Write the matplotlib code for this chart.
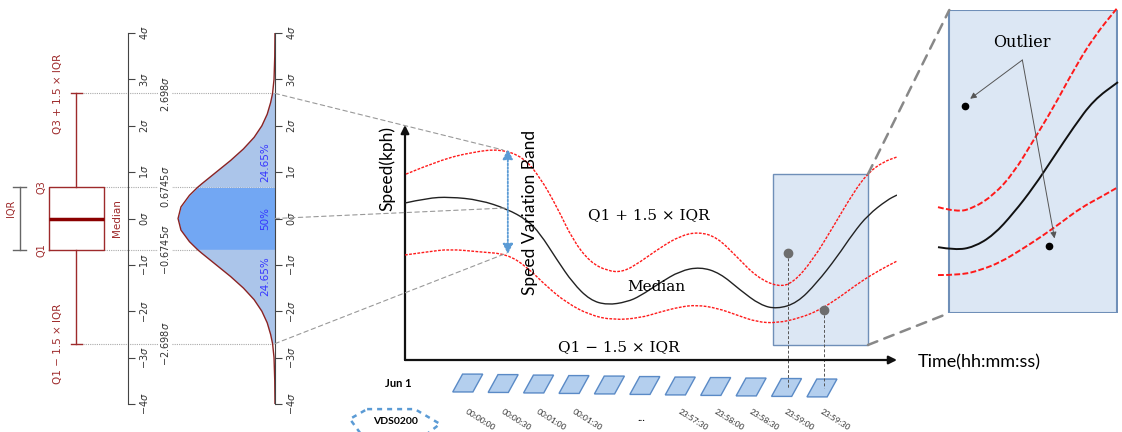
import numpy as np
import matplotlib
matplotlib.use("Agg")
import matplotlib.pyplot as plt
from matplotlib.patches import Rectangle, Polygon, PathPatch, ConnectionPatch
from matplotlib.path import Path

W, H = 1122, 432

# ---- left panel: box plot vs. normal density (sigma units) ----
sigma_ticks = np.arange(-4, 5)
box_stats = dict(whislo=-2.698, q1=-0.6745, med=0.0, q3=0.6745, whishi=2.698)
pdf_z = [0, 0.25, 0.5, 0.6745, 0.75, 1.0, 1.25, 1.5, 1.75, 2.0, 2.25, 2.5, 2.698, 3.0, 3.5, 4.0]
pdf_v = [0.399, 0.387, 0.352, 0.318, 0.301, 0.242, 0.183, 0.130, 0.086, 0.054, 0.032,
         0.018, 0.010, 0.004, 0.001, 0.0]
share_labels = ["24.65%", "50%", "24.65%"]
share_z = [1.22, 0.0, -1.25]
ref_z = [2.698, 0.6745, -0.6745, -2.698]
ref_labels = [r"$2.698\sigma$", r"$0.6745\sigma$", r"$-0.6745\sigma$", r"$-2.698\sigma$"]

# ---- main chart: speed over time (time 0-100, speed 0-100) ----
upper_t = [0.2, 7.1, 13.8, 19.3, 24.0, 27.4, 30.9, 34.1, 37.6, 41.1, 44.3, 47.8, 51.8, 55.9,
           59.6, 63.4, 67.5, 71.5, 75.8, 78.9, 82.9, 87.0, 91.1, 94.1, 97.2, 100]
upper_v = [79.1, 85.1, 88.5, 89.8, 86.4, 77.9, 65.1, 51.1, 41.7, 37.9, 37.4, 41.7, 47.7, 52.8,
           54.5, 52.3, 43.8, 35.3, 31.1, 32.8, 42.6, 56.6, 71.1, 79.6, 84.3, 86.4]
median_t = [0, 4.5, 9.1, 15.2, 20.7, 24.8, 27.4, 30.9, 34.1, 37.6, 41.1, 45.1, 47.8, 51.8,
            55.9, 60.0, 64.0, 68.1, 72.2, 75.6, 79.7, 83.7, 87.8, 91.1, 94.1, 98.0, 100]
median_v = [66.8, 68.9, 69.4, 68.1, 64.3, 59.6, 54.0, 42.6, 32.8, 25.5, 23.4, 24.7, 27.2, 32.8,
            37.9, 39.6, 37.0, 29.8, 23.4, 21.7, 24.3, 32.8, 43.8, 54.0, 61.7, 68.1, 70.2]
lower_t = [0, 4.5, 9.1, 15.2, 20.7, 24.8, 28.9, 32.9, 37.6, 42.3, 47.8, 51.8, 55.9, 59.3,
           63.4, 67.5, 71.5, 75.6, 80.3, 84.3, 88.4, 92.5, 96.5, 100]
lower_v = [44.7, 46.0, 47.2, 46.0, 45.1, 39.6, 31.1, 24.3, 19.1, 17.0, 17.9, 20.4, 22.6, 23.4,
           22.1, 19.1, 16.2, 15.7, 17.9, 21.3, 26.8, 33.2, 38.3, 42.1]
dots_t = [77.8, 85.2]
dots_v = [45.5, 21.3]
box_t = (74.8, 94.1)
box_v = (6.4, 79.1)
band_t = 20.9
band_v = (45.1, 89.8)

# ---- zoomed inset (same units) ----
zu_t = [73.5, 75.7, 77.6, 79.9, 82.2, 84.5, 86.8, 89.1, 91.4, 94.2]
zu_v = [31.8, 30.6, 31.6, 34.7, 40.0, 47.9, 55.8, 64.7, 72.6, 79.8]
zm_t = [73.5, 75.5, 77.6, 79.9, 82.2, 84.5, 86.8, 89.1, 91.4, 94.2]
zm_v = [22.2, 21.5, 22.2, 25.1, 30.4, 36.6, 43.8, 51.0, 57.5, 61.8]
zl_t = [73.5, 76.1, 78.4, 80.7, 83.0, 85.3, 87.6, 89.9, 92.2, 94.2]
zl_v = [15.5, 15.5, 16.7, 18.6, 21.5, 24.6, 28.0, 31.6, 34.2, 36.6]
out_t = [76.6, 86.3]
out_v = [56.0, 22.5]

# ---- 30 s slots of one day ----
slot_labels = ["00:00:00", "00:00:30", "00:01:00", "00:01:30", "", "",
               "23:57:30", "23:58:00", "23:58:30", "23:59:00", "23:59:30"]

DARKRED = "#9e2a2b"
RED = "#ff1a1a"
SANS = "Lato"
SERIF = "DejaVu Serif"


def px_axes(fig, x0, y0, x1, y1):
    return fig.add_axes([x0 / W, 1 - y1 / H, (x1 - x0) / W, (y1 - y0) / H])


def smooth_line(ax, x, y, **kw):
    # quadratic b-spline through the read points
    pts = np.column_stack([x, y])
    verts = [pts[0]]
    codes = [Path.MOVETO]
    for i in range(1, len(pts) - 1):
        verts += [pts[i], (pts[i] + pts[i + 1]) / 2]
        codes += [Path.CURVE3, Path.CURVE3]
    verts.append(pts[-1])
    codes.append(Path.LINETO)
    ax.add_patch(PathPatch(Path(verts, codes), fill=False, **kw))


def sigma_axis(ax):
    for s in ["top", "left", "bottom"]:
        ax.spines[s].set_visible(False)
    ax.spines["right"].set_color("#444")
    ax.xaxis.set_visible(False)
    ax.yaxis.tick_right()
    ax.set_ylim(-4, 4)
    ax.set_yticks(sigma_ticks)
    ax.set_yticklabels([rf"${k}\sigma$" for k in sigma_ticks])
    ax.tick_params(axis="y", direction="out", length=5, color="#444", labelsize=7,
                   labelcolor="#333", pad=2)
    for lab in ax.get_yticklabels():
        lab.set_rotation(90)
        lab.set_va("center")
    ax.set_facecolor("none")


fig = plt.figure(figsize=(W / 100, H / 100), dpi=100)

# box plot
ax_box = px_axes(fig, 0, 33, 128, 404)
ax_box.set_xlim(0, 128)
sigma_axis(ax_box)
ax_box.bxp([box_stats], positions=[76.5], widths=[55], capwidths=[11], showfliers=False,
           manage_ticks=False,
           boxprops=dict(color=DARKRED, lw=1), whiskerprops=dict(color=DARKRED, lw=1),
           capprops=dict(color=DARKRED, lw=1), medianprops=dict(color="#8b0000", lw=2.5))
ax_box.set_yticks(sigma_ticks)
ax_box.plot([20, 20], [box_stats["q1"], box_stats["q3"]], color="#666", lw=1)
for q in (box_stats["q1"], box_stats["q3"]):
    ax_box.plot([13, 26], [q, q], color="#666", lw=1)
ax_box.text(11, 0.22, "IQR", rotation=90, ha="center", va="center", fontsize=7, color=DARKRED)
ax_box.text(42, box_stats["q3"], "Q3", rotation=90, ha="center", va="center", fontsize=7, color=DARKRED)
ax_box.text(42, box_stats["q1"], "Q1", rotation=90, ha="center", va="center", fontsize=7, color=DARKRED)
ax_box.text(58, box_stats["whishi"], "Q3 + 1.5 × IQR", rotation=90, ha="center", va="center",
            fontsize=7.5, color=DARKRED)
ax_box.text(58, box_stats["whislo"], "Q1 − 1.5 × IQR", rotation=90, ha="center", va="center",
            fontsize=7.5, color=DARKRED)
ax_box.text(117, 0, "Median", rotation=90, ha="center", va="center", fontsize=7.5, color=DARKRED)
for z, x0, lab in zip(ref_z, [83, 104, 104, 83], ref_labels):
    ax_box.plot([x0, 275], [z, z], ls=(0, (1, 1)), color="#aaa", lw=0.8, clip_on=False, zorder=0)
    ax_box.text(165, z, lab, rotation=90, ha="center", va="center", fontsize=7, color="#333",
                clip_on=False, bbox=dict(facecolor="white", edgecolor="none", pad=0.5))

# normal density
ax_pdf = px_axes(fig, 150, 33, 275, 404)
sigma_axis(ax_pdf)
ax_pdf.set_xlim(125 / 243, 0)
z = np.concatenate([-np.array(pdf_z[::-1]), np.array(pdf_z[1:])])
v = np.concatenate([np.array(pdf_v[::-1]), np.array(pdf_v[1:])])
ax_pdf.fill_betweenx(z, v, 0, where=np.abs(z) <= 0.6746, color="#72a7f3", lw=0)
ax_pdf.fill_betweenx(z, v, 0, where=(np.abs(z) >= 0.6744) & (np.abs(z) <= 2.699),
                     color="#abc5ea", lw=0)
ax_pdf.plot(v, z, color="#8b2323", lw=1)
for lab, zz in zip(share_labels, share_z):
    ax_pdf.text(0.041, zz, lab, rotation=90, ha="center", va="center", fontsize=7.5, color="#3535ff")

# main speed chart
ax = px_axes(fig, 405, 125, 897, 360)
ax.set_xlim(0, 100)
ax.set_ylim(0, 100)
ax.axis("off")
ax.annotate("", xy=(1, 0), xytext=(0, 0), xycoords="axes fraction",
            arrowprops=dict(arrowstyle="-|>", color="#111", lw=1.6, mutation_scale=12,
                            shrinkA=0, shrinkB=0))
ax.annotate("", xy=(0, 1), xytext=(0, 0), xycoords="axes fraction",
            arrowprops=dict(arrowstyle="-|>", color="#111", lw=1.6, mutation_scale=12,
                            shrinkA=0, shrinkB=0))
ax.add_patch(Rectangle((box_t[0], box_v[0]), box_t[1] - box_t[0], box_v[1] - box_v[0],
                       facecolor="#dce7f4", edgecolor="#6f8fb8", lw=1, zorder=1))
smooth_line(ax, upper_t, upper_v, ec=RED, lw=1, ls=(0, (2, 1)), zorder=3)
smooth_line(ax, median_t, median_v, ec="#222", lw=1, zorder=3)
smooth_line(ax, lower_t, lower_v, ec=RED, lw=1, ls=(0, (2, 1)), zorder=3)
ax.plot(dots_t, dots_v, "o", color="#6d6d6d", ms=6, zorder=4)
for t, vv in zip(dots_t, dots_v):
    ax.plot([t, t], [vv, -12], ls=(0, (3, 2)), color="#555", lw=0.7, clip_on=False, zorder=2)
ax.annotate("", xy=(band_t, band_v[1]), xytext=(band_t, band_v[0]),
            arrowprops=dict(arrowstyle="<|-|>", color="#5b9bd5", lw=1.3, ls=(0, (1, 1)),
                            mutation_scale=15, shrinkA=0, shrinkB=0))
ax.text(25.4, 63.0, "Speed Variation Band", rotation=90, ha="center", va="center",
        fontsize=12.5, family=SANS)
ax.text(-3.7, 81.7, "Speed(kph)", rotation=90, ha="center", va="center", fontsize=12.5,
        family=SANS, clip_on=False)
ax.text(104.3, -0.9, "Time(hh:mm:ss)", ha="left", va="center", fontsize=13, family=SANS,
        clip_on=False)
ax.text(49.6, 61.7, "Q1 + 1.5 × IQR", ha="center", va="center", fontsize=11, family=SERIF)
ax.text(51.0, 31.1, "Median", ha="center", va="center", fontsize=11, family=SERIF)
ax.text(43.5, 5.5, "Q1 − 1.5 × IQR", ha="center", va="center", fontsize=11, family=SERIF)

# time slots below the axis
for k, lab in enumerate(slot_labels):
    x0 = 9.7 + 7.2 * k
    vb = -13.6 - 0.21 * k
    ax.add_patch(Polygon([(x0, vb), (x0 + 4.1, vb), (x0 + 6.1, vb + 7.6), (x0 + 2.0, vb + 7.6)],
                         closed=True, facecolor="#b4cfee", edgecolor="#5a8ac6", lw=1,
                         clip_on=False, zorder=1))
    if lab:
        ax.text(x0 + 5.7, -25.5, lab, rotation=-32, ha="center", va="center", fontsize=6,
                family=SANS, color="#333", clip_on=False)
ax.text(48.0, -24.3, "...", ha="center", va="center", fontsize=8, family=SANS, clip_on=False)
ax.text(-1.4, -9.8, "Jun 1", ha="center", va="center", fontsize=8, weight="bold",
        family=SANS, clip_on=False)
ax.add_patch(Polygon([(-7.7, -20.9), (2.0, -20.9), (7.1, -27.2), (4.7, -31.1), (-9.1, -31.1),
                      (-11.2, -25.1)], closed=True, fill=False, edgecolor="#5b9bd5", lw=1.8,
                     ls=(0, (2, 2)), clip_on=False))
ax.text(-2.0, -26.0, "VDS0200", ha="center", va="center", fontsize=7.5, weight="bold",
        family=SANS, clip_on=False)

# zoomed inset
axz = px_axes(fig, 938, 10, 1118, 313)
axz.set_xlim(73.5, 94.2)
axz.set_ylim(box_v)
axz.axis("off")
axz.add_patch(Rectangle((box_t[0], box_v[0]), box_t[1] - box_t[0], box_v[1] - box_v[0],
                        facecolor="#dce7f4", edgecolor="#6f8fb8", lw=1.5, zorder=1))
smooth_line(axz, zu_t, zu_v, ec=RED, lw=1.4, ls=(0, (3, 1.2)), zorder=3, clip_on=False)
smooth_line(axz, zm_t, zm_v, ec="#111", lw=1.4, zorder=3, clip_on=False)
smooth_line(axz, zl_t, zl_v, ec=RED, lw=1.4, ls=(0, (3, 1.2)), zorder=3, clip_on=False)
axz.plot(out_t, out_v, "o", color="black", ms=4.5, zorder=4)
for t, vv in zip(out_t, out_v):
    axz.annotate("", xy=(t + 0.6, vv + 1.8), xytext=(83.2, 67.1),
                 arrowprops=dict(arrowstyle="-|>", color="#555", lw=0.7, mutation_scale=9,
                                 shrinkA=0, shrinkB=0), zorder=4)
axz.text(83.2, 71.2, "Outlier", ha="center", va="center", fontsize=11.5, family=SERIF)

# connectors
for zz, tt, vv in [(2.698, 19.9, 89.4), (0.0, 20.7, 64.7), (-2.698, 20.7, 45.5)]:
    fig.add_artist(ConnectionPatch((0, zz), (tt, vv), "data", "data", axesA=ax_pdf, axesB=ax,
                                   color="#999", lw=0.8, ls=(0, (4, 3))))
for vv in box_v:
    fig.add_artist(ConnectionPatch((box_t[1], vv), (box_t[0], vv), "data", "data", axesA=ax,
                                   axesB=axz, color="#888", lw=1.8, ls=(0, (4, 3))))

fig.savefig("out.png", dpi=100)
